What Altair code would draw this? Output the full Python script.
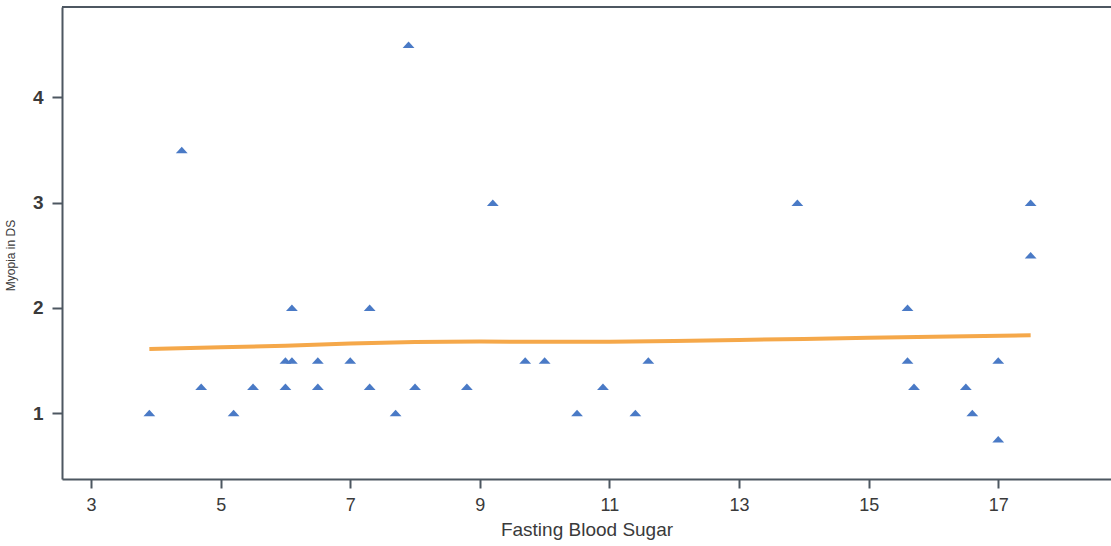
import altair as alt
import pandas as pd

# Scatter data: fasting blood sugar vs myopia in DS
fbs = [3.9, 4.4, 4.7, 5.2, 5.5, 6.0, 6.0, 6.1, 6.1, 6.5, 6.5, 7.0, 7.3, 7.3,
       7.7, 7.9, 8.0, 8.8, 9.2, 9.7, 10.0, 10.5, 10.9, 11.4, 11.6, 13.9,
       15.6, 15.6, 15.7, 16.5, 16.6, 17.0, 17.0, 17.5, 17.5]
myopia = [1.0, 3.5, 1.25, 1.0, 1.25, 1.5, 1.25, 2.0, 1.5, 1.5, 1.25, 1.5, 2.0, 1.25,
          1.0, 4.5, 1.25, 1.25, 3.0, 1.5, 1.5, 1.0, 1.25, 1.0, 1.5, 3.0,
          2.0, 1.5, 1.25, 1.25, 1.0, 1.5, 0.75, 3.0, 2.5]

# Smoothed fit line
fit_x = [3.9, 5, 6, 7, 8, 9, 10, 11, 12, 13, 14, 15, 16, 17.5]
fit_y = [1.61, 1.625, 1.64, 1.66, 1.675, 1.68, 1.677, 1.677, 1.685, 1.695, 1.705, 1.715, 1.725, 1.74]

x_ticks = [3, 5, 7, 9, 11, 13, 15, 17]
y_ticks = [1, 2, 3, 4]

pts = pd.DataFrame({"x": fbs, "y": myopia})
fit = pd.DataFrame({"x": fit_x, "y": fit_y})

W, H = 1049, 472
FRAME = "#4d5761"
TEXT = "#3a3a3a"

xscale = alt.Scale(domain=[2.552, 18.74], nice=False, zero=False)
yscale = alt.Scale(domain=[0.373, 4.86], nice=False, zero=False)

xaxis = alt.Axis(values=x_ticks, format="d", title="Fasting Blood Sugar", grid=False,
                 domainColor=FRAME, domainWidth=2, tickColor=FRAME, tickWidth=2,
                 tickSize=9, labelFont="Liberation Sans", labelFontSize=18,
                 labelColor=TEXT, labelPadding=8, titleFont="Liberation Sans",
                 titleFontSize=19, titleFontWeight="normal", titleColor=TEXT,
                 titlePadding=6)
yaxis = alt.Axis(values=y_ticks, format="d", title="Myopia in DS", grid=False,
                 domainColor=FRAME, domainWidth=2, tickColor=FRAME, tickWidth=2,
                 tickSize=10, labelFont="Liberation Sans", labelFontSize=19,
                 labelFontWeight="bold", labelColor=TEXT, labelPadding=9,
                 titleFont="Liberation Sans", titleFontSize=12,
                 titleFontWeight="normal", titleColor=TEXT,
                 titleX=-52, titleY=248, titleAngle=270, titleBaseline="middle",
                 titleAlign="center")

line = alt.Chart(fit).mark_line(color="#f5a84a", strokeWidth=4).encode(
    x=alt.X("x:Q", scale=xscale, axis=xaxis),
    y=alt.Y("y:Q", scale=yscale, axis=yaxis),
)

points = alt.Chart(pts).mark_point(
    shape="M-1,0.55L0,-0.55L1,0.55Z", filled=True, color="#4a7ac6",
    opacity=1, size=140,
).encode(
    x=alt.X("x:Q", scale=xscale),
    y=alt.Y("y:Q", scale=yscale),
)

top = alt.Chart(pd.DataFrame({"a": [0]})).mark_rule(color=FRAME, strokeWidth=2).encode(
    x=alt.value(0), x2=alt.value(W), y=alt.value(0)
)

chart = alt.layer(line, points, top).properties(
    width=W, height=H,
    autosize=alt.AutoSizeParams(type="none"),
    padding={"left": 62, "top": 7, "right": 0, "bottom": 67},
    background="white",
).configure_view(stroke=None)

chart.save("out.html", embed_options={"renderer": "svg", "actions": False})
